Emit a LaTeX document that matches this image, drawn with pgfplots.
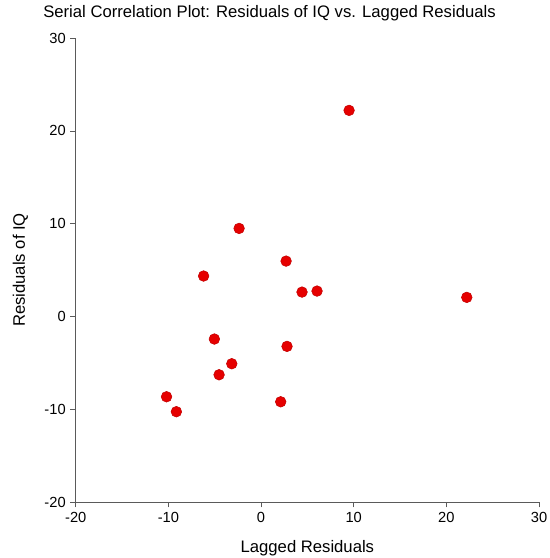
\documentclass[border=0pt]{standalone}
\usepackage{pgfplots}
\pgfplotsset{compat=1.18}
\usepackage{fontspec}
\setmainfont{Liberation Sans}
\definecolor{dotred}{RGB}{230,0,0}
\definecolor{axgray}{RGB}{90,90,90}

\begin{document}
\begin{tikzpicture}
% fix the page to the reference size (550x558 px at 0.75pt/px)
\useasboundingbox (-56.8pt,-42pt) rectangle (355.7pt,376.5pt);
\begin{axis}[
    at={(0,0)}, anchor=south west,
    scale only axis,
    width=347.5pt, height=348pt,
    xmin=-20, xmax=30,
    ymin=-20, ymax=30,
    xtick={-20,-10,0,10,20,30},
    ytick={-20,-10,0,10,20,30},
    axis x line=bottom, axis y line=left,
    axis line style={-, axgray},
    tick style={axgray, thin},
    tick align=outside,
    major tick length=4pt,
    font=\fontsize{12.5}{15}\selectfont,
    /pgf/number format/assume math mode=true,
    tick label style={font=\fontsize{11}{13}\selectfont},
    title={Serial Correlation Plot: Residuals of IQ vs. Lagged Residuals},
    title style={at={(axis description cs:-0.0706,1.026)}, anchor=base west, inner sep=0pt},
    xlabel={Lagged Residuals},
    xlabel style={at={(axis description cs:0.5,-0.108)}, anchor=base, inner sep=0pt},
    ylabel={Residuals of IQ},
    ylabel style={at={(axis description cs:-0.11,0.5)}, anchor=base, inner sep=0pt},
]
\addplot[only marks, mark=*, mark size=4pt,
    mark options={fill=dotred, draw=dotred!85!black}] coordinates {
    (9.5,22.2) (22.2,2.05) (-2.37,9.48) (2.7,5.96) (-6.2,4.35)
    (4.42,2.62) (6.04,2.73) (-5.04,-2.44) (2.8,-3.23) (-3.16,-5.1)
    (-4.53,-6.29) (-10.2,-8.66) (-9.14,-10.27) (2.12,-9.2)
};
\end{axis}
\end{tikzpicture}
\end{document}
